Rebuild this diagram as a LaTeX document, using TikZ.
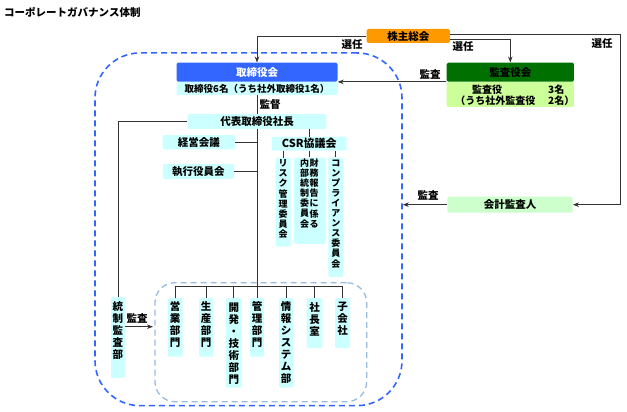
\documentclass[tikz,border=0pt]{standalone}
\usepackage{fontspec}
\setmainfont{Noto Sans CJK JP}
\usetikzlibrary{arrows.meta}
\definecolor{orangec}{HTML}{FF9900}
\definecolor{bluec}{HTML}{3366FF}
\definecolor{cyanbg}{HTML}{CCFFFF}
\definecolor{greenbg}{HTML}{CCFFCC}
\definecolor{limebg}{HTML}{CCFF99}
\definecolor{darkg}{HTML}{007000}
\definecolor{innerd}{HTML}{99BBE0}
\definecolor{linec}{HTML}{333333}
\begin{document}
\begin{tikzpicture}[x=1pt,y=-1pt,
  line/.style={draw=linec, line width=0.8pt},
  arr/.style={line, -{Stealth[length=6pt,width=4.5pt]}},
  box/.style={rectangle, rounded corners=1.5pt, inner sep=0pt, anchor=center},
  cy/.style={box, fill=cyanbg},
  txt/.style={inner sep=0pt, font=\fontsize{10.5}{12}\selectfont\bfseries},
  vt/.style={inner sep=0pt, align=center, font=\fontsize{10.5}{12}\selectfont\bfseries},
  vts/.style={inner sep=0pt, align=center, font=\fontsize{9}{10.1}\selectfont\bfseries},
  sz/.style 2 args={minimum width=#1pt, minimum height=#2pt},
]
\useasboundingbox (0,0) rectangle (627,412);

% dashed regions
\node[draw=bluec, dashed, dash pattern=on 6pt off 4pt, line width=1.6pt, rounded corners=45pt, sz={307}{352.7}] (bigd) at (248.5,229.3) {};
\node[draw=innerd, dash pattern=on 6pt off 4pt, line width=1.3pt, rounded corners=20pt, sz={211.7}{119}] (inner) at (260.8,342.2) {};

% title
\node[txt, anchor=west] (title) at (4,12) {コーポレートガバナンス体制};

% top boxes
\node[box, txt, fill=orangec, sz={83.3}{14}] (kabu) at (408.3,36) {株主総会};
\node[cy, txt, sz={161}{13.5}, font=\fontsize{9.5}{12}\selectfont\bfseries] (toriS) at (257,88.4) {取締役6名（うち社外取締役1名）};
\node[box, txt, fill=bluec, text=white, sz={161}{19}] (tori) at (257,72.2) {取締役会};
\node[box, fill=limebg, sz={127.3}{25.3}] (kansaS) at (510.3,94.3) {};
\node[box, txt, fill=darkg, sz={127.3}{19}] (kansa) at (510.3,72.2) {監査役会};
\node[txt, anchor=west, font=\fontsize{10}{12}\selectfont\bfseries] (ks1a) at (472,89.3) {監査役};
\node[txt, anchor=west, font=\fontsize{10}{12}\selectfont\bfseries] (ks1b) at (548,89.3) {3名};
\node[txt, anchor=east, font=\fontsize{10}{12}\selectfont\bfseries] (ks2a) at (535.5,100.3) {（うち社外監査役};
\node[txt, anchor=west, font=\fontsize{10}{12}\selectfont\bfseries] (ks2b) at (548,100.3) {2名）};
\node[box, txt, fill=greenbg, sz={125.4}{16}] (kaikei) at (510,204.7) {会計監査人};

% executive
\node[cy, txt, sz={138.7}{15}] (daihyo) at (257,121.5) {代表取締役社長};
\node[cy, txt, sz={72.3}{14.3}] (keiei) at (198.8,142.2) {経営会議};
\node[cy, txt, sz={71.3}{15}] (shikko) at (198.4,171.5) {執行役員会};
\node[cy, txt, sz={75}{14}, font=\fontsize{11}{12}\selectfont\bfseries] (csr) at (309.2,143.7) {CSR協議会};

% CSR committees
\node[cy, sz={15}{89}] (risk) at (283.2,202.2) {};
\node[vts] (riskT) at (283.2,199) {リ\\ス\\ク\\管\\理\\委\\員\\会};
\node[cy, sz={31.7}{86.3}] (zaimu) at (309.8,200.8) {};
\node[vts] (zaimuR) at (314,193.3) {財\\務\\報\\告\\に\\係\\る};
\node[vts] (zaimuL) at (304.5,193.3) {内\\部\\統\\制\\委\\員\\会};
\node[cy, sz={15}{119.3}] (comp) at (335.8,217.3) {};
\node[vts] (compT) at (335.8,213.7) {コ\\ン\\プ\\ラ\\イ\\ア\\ン\\ス\\委\\員\\会};

% audit dept
\node[cy, sz={14.3}{81}] (tousei) at (117.9,337.5) {};
\node[vt] (touseiT) at (117.9,331) {統\\制\\監\\査\\部};

% departments
\node[cy, sz={15}{58.7}] (eigyo) at (175.2,327.3) {};
\node[vt] (eigyoT) at (175.2,324.5) {営\\業\\部\\門};
\node[cy, sz={14.3}{58.7}] (seisan) at (206.2,327.3) {};
\node[vt] (seisanT) at (206.2,324.5) {生\\産\\部\\門};
\node[cy, sz={15.7}{89.7}] (kaihatsu) at (233.8,342.8) {};
\node[vt] (kaihatsuT) at (233.8,344) {開\\発\\・\\技\\術\\部\\門};
\node[cy, sz={14}{58.7}] (kanri) at (257,327.3) {};
\node[vt] (kanriT) at (257,324.5) {管\\理\\部\\門};
\node[cy, sz={14.3}{89.7}] (joho) at (286.2,342.8) {};
\node[vt] (johoT) at (286.2,342.5) {情\\報\\シ\\ス\\テ\\ム\\部};
\node[cy, sz={15.6}{50}] (shacho) at (314.5,323) {};
\node[vt] (shachoT) at (314.5,319) {社\\長\\室};
\node[cy, sz={15}{50}] (kogaisha) at (342.5,323) {};
\node[vt] (kogaishaT) at (342.5,319) {子\\会\\社};

% coordinates
\coordinate (rc) at (620,34.5);
\coordinate (bar) at (0,286);
\coordinate (tA) at (153,326.7);

% connectors
\draw[arr] (kabu.west) -| (tori.north);
\draw[arr] ([yshift=-3pt]kabu.east) -| (kansa.north);
\draw[arr] ([yshift=1.5pt]kabu.east) -- (rc) |- (kaikei.east);
\draw[arr] (kansa.south west) -- (tori.south east);
\draw[arr] (kaikei.west) -- (kaikei.west -| bigd.east);
\draw[arr] (tousei.east |- tA) -- (tA);
\draw[line] (toriS.south) -- (daihyo.north);
\draw[line] (daihyo.south) -- (kanri.north);
\draw[line] (daihyo.west) -| (tousei.north);
\draw[line] (keiei.east) -- (keiei.east -| daihyo.south);
\draw[line] (shikko.east) -- (shikko.east -| daihyo.south);
\draw[line] (daihyo.south -| csr.north) -- (csr.north);
\draw[line] (risk.north |- csr.south) -- (risk.north);
\draw[line] (zaimu.north |- csr.south) -- (zaimu.north);
\draw[line] (comp.north |- csr.south) -- (comp.north);
\draw[line] (eigyo.north |- bar) -- (kogaisha.north |- bar);
\foreach \n in {eigyo,seisan,kaihatsu,shacho,kogaisha,joho}
  \draw[line] (\n.north |- bar) -- (\n.north);

% labels
\node[txt] (l1) at (352,45) {選任};
\node[txt] (l2) at (463,47) {選任};
\node[txt] (l3) at (602,44) {選任};
\node[txt] (l4) at (430,74) {監査};
\node[txt] (l5) at (428,195) {監査};
\node[txt] (l6) at (137,318) {監査};
\node[txt] (l7) at (270,105) {監督};
\end{tikzpicture}
\end{document}
